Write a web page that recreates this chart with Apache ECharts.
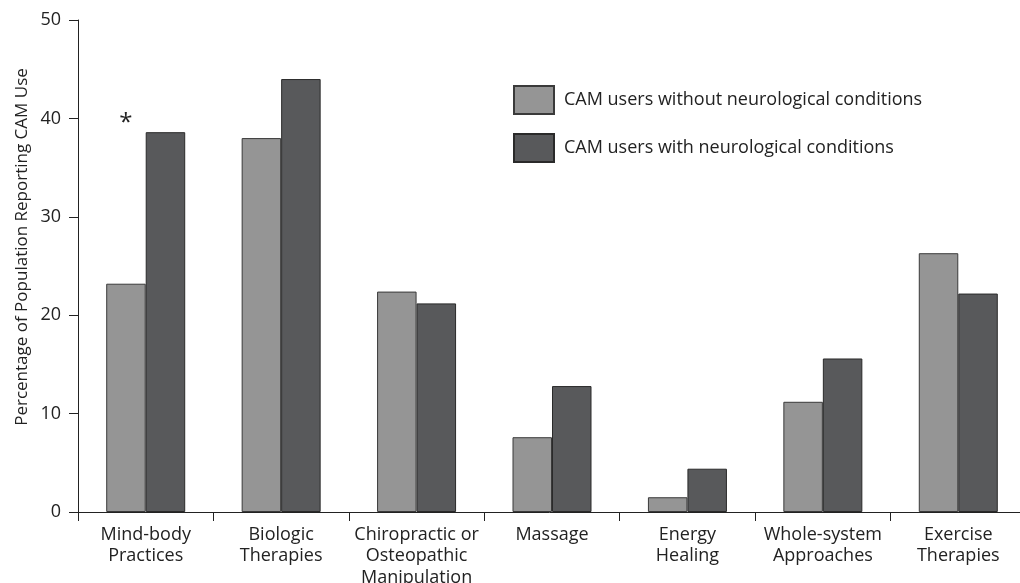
<!DOCTYPE html>
<html>
<head>
<meta charset="utf-8">
<script src="https://cdn.jsdelivr.net/npm/echarts@6/dist/echarts.min.js"></script>
<style>html,body{margin:0;padding:0;background:#fff;}#c{width:1020px;height:583px;}</style>
</head>
<body>
<div id="c"></div>
<script>
const categories = ['Mind-body\nPractices', 'Biologic\nTherapies', 'Chiropractic or\nOsteopathic\nManipulation', 'Massage', 'Energy\nHealing', 'Whole-system\nApproaches', 'Exercise\nTherapies'];
const withoutNeuro = [23.2, 38.0, 22.4, 7.6, 1.5, 11.2, 26.3];
const withNeuro = [38.6, 44.0, 21.2, 12.8, 4.4, 15.6, 22.2];
const seriesNames = ['CAM users without neurological conditions', 'CAM users with neurological conditions'];
const yTitle = 'Percentage of Population Reporting CAM Use';
const asteriskAt = ['Mind-body\nPractices', 40];

const FONT = '"Open Sans", "Noto Sans", sans-serif';
const chart = echarts.init(document.getElementById('c'), null, {renderer: 'canvas'});
chart.setOption({
  animation: false,
  backgroundColor: '#fff',
  textStyle: {fontFamily: FONT},
  grid: {left: 78, top: 20, width: 948, height: 492, containLabel: false, outerBoundsMode: 'none'},
  legend: {
    orient: 'vertical', left: 513, top: 85, padding: 0,
    itemWidth: 40, itemHeight: 28, itemGap: 18,
    icon: 'rect',
    textStyle: {fontSize: 18, color: '#222', fontFamily: FONT, padding: [0, 0, 0, 5]},
    data: seriesNames
  },
  xAxis: {
    type: 'category', data: categories, boundaryGap: true,
    axisLine: {lineStyle: {color: '#222', width: 1}},
    axisTick: {show: true, length: 9, lineStyle: {color: '#222'}},
    axisLabel: {fontSize: 18, color: '#222', lineHeight: 21.5, margin: 12, interval: 0, fontFamily: FONT}
  },
  yAxis: {
    type: 'value', min: 0, max: 50, interval: 10,
    axisLine: {show: true, lineStyle: {color: '#222', width: 1}},
    axisTick: {show: true, length: 9, lineStyle: {color: '#222'}},
    axisLabel: {fontSize: 18, color: '#222', margin: 17, fontFamily: FONT},
    splitLine: {show: false}
  },
  graphic: [{
    type: 'text', x: 22, y: 247, rotation: Math.PI / 2,
    style: {text: yTitle, fontSize: 17, fill: '#222', fontFamily: FONT, align: 'center', verticalAlign: 'middle'}
  }],
  series: [
    {
      name: seriesNames[0], type: 'bar', data: withoutNeuro, barWidth: 39.5, barGap: '0%',
      itemStyle: {color: '#959595', borderColor: '#3a3a3a', borderWidth: 1},
      markPoint: {
        symbol: 'circle', symbolSize: 1, itemStyle: {color: 'rgba(0,0,0,0)'},
        label: {show: true, position: 'inside', formatter: '*', fontSize: 24, color: '#222', offset: [0, 5]},
        data: [{coord: asteriskAt}]
      }
    },
    {
      name: seriesNames[1], type: 'bar', data: withNeuro, barWidth: 39.5, barGap: '0%',
      itemStyle: {color: '#58595b', borderColor: '#2a2a2a', borderWidth: 1}
    }
  ]
});
</script>
</body>
</html>
